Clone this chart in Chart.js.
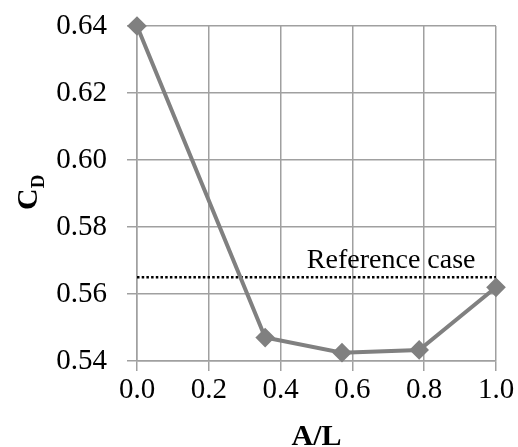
<!DOCTYPE html>
<html>
<head>
<meta charset="utf-8">
<script src="https://cdn.jsdelivr.net/npm/chart.js@4.4.1/dist/chart.umd.min.js"></script>
<style>
  html, body { margin: 0; padding: 0; background: #fff; }
  #wrap { width: 518px; height: 447px; }
</style>
</head>
<body>
<div id="wrap"><canvas id="cdChart" width="518" height="447"></canvas></div>
<script>
// A/L ratio vs drag coefficient
const aOverL = [0.0, 0.357, 0.571, 0.786, 1.0];
const cdValues = [0.640, 0.547, 0.5425, 0.5433, 0.562];
const referenceCd = 0.565;
const referenceSpan = [0.0, 1.0];
const xTicks = [0.0, 0.2, 0.4, 0.6, 0.8, 1.0];
const yTicks = [0.54, 0.56, 0.58, 0.60, 0.62, 0.64];

const serif = "'Liberation Serif', 'Times New Roman', serif";

// axis titles (C with subscript D) and the reference-line label
const titlesPlugin = {
  id: "titles",
  afterDraw(chart) {
    const { ctx, chartArea, scales } = chart;
    ctx.save();
    ctx.fillStyle = "#000";

    // x axis title
    ctx.font = "bold 30px " + serif;
    ctx.textAlign = "center";
    ctx.textBaseline = "alphabetic";
    ctx.fillText("A/L", (chartArea.left + chartArea.right) / 2, 445);

    // y axis title, rotated
    ctx.save();
    ctx.translate(37, 210);
    ctx.rotate(-Math.PI / 2);
    ctx.textAlign = "left";
    ctx.font = "bold 30px " + serif;
    ctx.fillText("C", 0, 0);
    const w = ctx.measureText("C").width;
    ctx.font = "bold 19px " + serif;
    ctx.fillText("D", w, 7);
    ctx.restore();

    // reference case label
    ctx.font = "28px " + serif;
    ctx.textAlign = "center";
    ctx.fillText("Reference case", scales.x.getPixelForValue(0.708), scales.y.getPixelForValue(referenceCd) - 9);
    ctx.restore();
  }
};

new Chart(document.getElementById("cdChart"), {
  type: "scatter",
  data: {
    datasets: [
      {
        label: "C_D",
        data: aOverL.map((x, i) => ({ x, y: cdValues[i] })),
        showLine: true,
        clip: false,
        borderColor: "#808080",
        backgroundColor: "#808080",
        borderWidth: 4,
        pointStyle: "rectRot",
        pointRadius: 7,
        pointHoverRadius: 7,
        order: 1
      },
      {
        label: "Reference case",
        data: referenceSpan.map(x => ({ x, y: referenceCd })),
        showLine: true,
        borderColor: "#000",
        borderWidth: 2.5,
        borderDash: [2.5, 2.2],
        pointRadius: 0,
        order: 2
      }
    ]
  },
  options: {
    responsive: false,
    animation: false,
    layout: { padding: { top: 26, right: 22, left: 0, bottom: 0 } },
    plugins: {
      legend: { display: false },
      tooltip: { enabled: false }
    },
    scales: {
      x: {
        type: "linear",
        min: 0,
        max: 1,
        afterBuildTicks: (s) => { s.ticks = xTicks.map(v => ({ value: v })); },
        afterFit: (s) => { s.height = 86; s.paddingLeft = 0; s.paddingRight = 0; },
        ticks: {
          color: "#000",
          font: { family: serif, size: 29 },
          padding: 2,
          maxRotation: 0,
          callback: (v) => Number(v).toFixed(1)
        },
        grid: { color: "#a0a0a0", lineWidth: 1.5, tickLength: 10 },
        border: { color: "#a0a0a0", width: 1.5 }
      },
      y: {
        type: "linear",
        min: 0.54,
        max: 0.64,
        afterBuildTicks: (s) => { s.ticks = yTicks.map(v => ({ value: v })); },
        afterFit: (s) => { s.width = 137; s.paddingTop = 0; s.paddingBottom = 0; },
        ticks: {
          color: "#000",
          font: { family: serif, size: 29 },
          padding: 20,
          callback: (v) => Number(v).toFixed(2)
        },
        grid: { color: "#a0a0a0", lineWidth: 1.5, tickLength: 10 },
        border: { color: "#a0a0a0", width: 1.5 }
      }
    }
  },
  plugins: [titlesPlugin]
});
</script>
</body>
</html>
